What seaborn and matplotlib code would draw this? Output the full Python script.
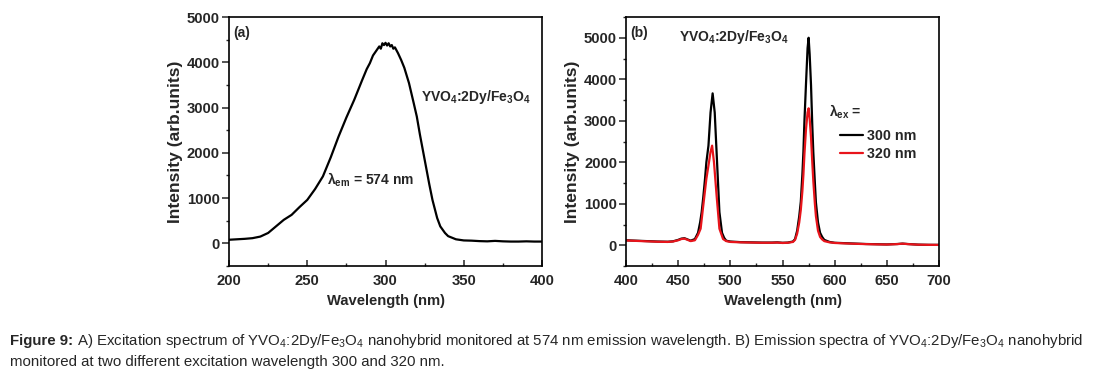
import matplotlib
matplotlib.use("Agg")
import matplotlib.pyplot as plt
import numpy as np
import pandas as pd
import seaborn as sns
from matplotlib.ticker import MultipleLocator

# ---------------- data ----------------
exc_wavelength = [200, 205, 210, 215, 220, 225, 230, 235, 240, 245, 250, 255, 260, 265,
                  270, 275, 280, 285, 288, 290, 292, 294, 295, 296, 297, 298, 299, 300,
                  301, 302, 303, 304, 305, 306, 308, 310, 312, 315, 318, 320, 322, 325,
                  328, 330, 333, 335, 338, 340, 345, 350, 355, 360, 365, 370, 375, 380,
                  385, 390, 395, 400]
exc_intensity = [80, 90, 100, 115, 150, 230, 375, 520, 630, 800, 960, 1200, 1480, 1900,
                 2360, 2780, 3170, 3600, 3850, 3980, 4150, 4250, 4300, 4350, 4300, 4420,
                 4380, 4430, 4370, 4420, 4350, 4380, 4300, 4330, 4200, 4050, 3880, 3540,
                 3100, 2800, 2400, 1850, 1300, 960, 560, 375, 230, 160, 90, 65, 60, 50,
                 45, 55, 45, 40, 40, 45, 40, 40]

em300_wavelength = [400, 410, 420, 430, 440, 445, 450, 453, 456, 459, 462, 466, 469, 471,
                    472.5, 474, 475.7, 477, 479, 481, 483, 485, 486.5, 488, 489.5, 492,
                    494, 496, 500, 510, 520, 530, 540, 545, 550, 555, 560, 562, 564, 566,
                    567.5, 569, 570, 571, 572.5, 574, 575, 576, 577.3, 578.5, 579.5, 581,
                    582, 584, 586, 588, 590, 595, 600, 610, 620, 630, 640, 650, 660, 665,
                    670, 680, 690, 700]
em300_intensity = [120, 110, 100, 90, 85, 95, 130, 160, 170, 140, 110, 150, 300, 550,
                   800, 1150, 1600, 2000, 2400, 3200, 3660, 3200, 2400, 1600, 800, 300,
                   180, 110, 90, 75, 70, 65, 65, 70, 60, 65, 90, 150, 350, 700,
                   1050, 1700, 2250, 3000, 3900, 4750, 5000, 4600, 3860, 2900, 2240, 1500,
                   1030, 550, 300, 200, 130, 80, 60, 50, 40, 30, 25, 20, 30, 40,
                   30, 15, 10, 10]

em320_wavelength = [400, 410, 420, 430, 440, 445, 450, 453, 456, 459, 462, 466, 469, 471.5,
                    474, 477, 479.5, 481, 482.5, 484.3, 486.8, 489.5, 493, 496, 500, 510,
                    520, 530, 540, 545, 550, 555, 560, 562, 564, 566, 567.5, 569, 570,
                    571, 572.5, 574, 575, 576, 577.3, 578.5, 579.5, 581, 582, 584, 586,
                    588, 590, 595, 600, 610, 620, 630, 640, 650, 660, 665, 670, 680,
                    690, 700]
em320_intensity = [115, 105, 95, 85, 80, 90, 120, 150, 160, 130, 100, 120, 250, 400,
                   950, 1600, 2000, 2250, 2400, 2000, 1200, 400, 150, 100, 80, 70,
                   65, 60, 60, 65, 55, 60, 80, 130, 280, 550, 850, 1300, 1700,
                   2200, 2800, 3200, 3300, 3050, 2600, 2000, 1550, 1000, 700, 350, 200,
                   140, 100, 70, 55, 45, 35, 28, 22, 18, 28, 38, 28, 14,
                   10, 8]

series_labels = ["300 nm", "320 nm"]
series_colors = ["#000000", "#e8141b"]

# ---------------- style ----------------
sns.set_style("ticks")
plt.rcParams['font.family'] = ['Liberation Sans', 'DejaVu Sans']
plt.rcParams['font.weight'] = 'bold'
plt.rcParams['axes.labelweight'] = 'bold'
plt.rcParams['mathtext.default'] = 'regular'
plt.rcParams['axes.linewidth'] = 1.2
plt.rcParams['axes.edgecolor'] = 'black'

fig = plt.figure(figsize=(11.01, 3.77), dpi=100)
ax1 = fig.add_axes([0.208, 0.2944, 0.2843, 0.6605])
ax2 = fig.add_axes([0.5686, 0.2944, 0.2843, 0.6605])

df_a = pd.DataFrame({"Wavelength": exc_wavelength, "Intensity": exc_intensity})
sns.lineplot(data=df_a, x="Wavelength", y="Intensity", ax=ax1, color="black",
             lw=1.6, estimator=None)

df_b = pd.concat([
    pd.DataFrame({"Wavelength": em300_wavelength, "Intensity": em300_intensity,
                  "series": series_labels[0]}),
    pd.DataFrame({"Wavelength": em320_wavelength, "Intensity": em320_intensity,
                  "series": series_labels[1]}),
], ignore_index=True)
sns.lineplot(data=df_b, x="Wavelength", y="Intensity", hue="series",
             palette=dict(zip(series_labels, series_colors)), ax=ax2, lw=1.6,
             estimator=None)

fs = 10
tfs = 10.7
for ax, (x0, x1), (y0, y1) in [(ax1, (200, 400), (-500, 5000)),
                               (ax2, (400, 700), (-500, 5500))]:
    ax.set_xlim(x0, x1)
    ax.set_ylim(y0, y1)
    ax.xaxis.set_major_locator(MultipleLocator(50))
    ax.xaxis.set_minor_locator(MultipleLocator(25))
    ax.yaxis.set_major_locator(MultipleLocator(1000))
    ax.yaxis.set_minor_locator(MultipleLocator(500))
    ax.set_yticks([0, 1000, 2000, 3000, 4000, 5000])
    ax.tick_params(axis='x', which='major', direction='in', length=4, width=1.1,
                   pad=6, labelsize=tfs)
    ax.tick_params(axis='x', which='minor', direction='in', length=2.5, width=1.0)
    ax.tick_params(axis='y', which='major', direction='out', length=5, width=1.1,
                   pad=1.5, labelsize=tfs)
    ax.tick_params(axis='y', which='minor', direction='out', length=2.2, width=1.0)
    for s in ax.spines.values():
        s.set_visible(True)
        s.set_linewidth(1.2)
    ax.set_xlabel("Wavelength (nm)", fontsize=10.6, labelpad=4)
    ax.set_ylabel("Intensity (arb.units)", fontsize=12.6, labelpad=3)
    for lbl in ax.get_xticklabels() + ax.get_yticklabels():
        lbl.set_fontweight('bold')

# panel texts
ax1.text(0.013, 0.936, "(a)", transform=ax1.transAxes, fontsize=fs, va='center')
ax1.text(0.613, 0.679, "YVO$_4$:2Dy/Fe$_3$O$_4$", transform=ax1.transAxes,
         fontsize=fs, va='center')
ax1.text(0.313, 0.345, "λ$_{em}$ = 574 nm", transform=ax1.transAxes,
         fontsize=fs, va='center')

ax2.text(0.013, 0.936, "(b)", transform=ax2.transAxes, fontsize=fs, va='center')
ax2.text(0.169, 0.92, "YVO$_4$:2Dy/Fe$_3$O$_4$", transform=ax2.transAxes,
         fontsize=fs, va='center')
ax2.text(0.649, 0.618, "λ$_{ex}$ =", transform=ax2.transAxes,
         fontsize=fs, va='center')

handles, labels = ax2.get_legend_handles_labels()
leg = ax2.legend(handles, labels, loc='upper left', bbox_to_anchor=(0.676, 0.563),
                 frameon=False, handlelength=1.6, handletextpad=0.25,
                 labelspacing=0.3, borderpad=0.2, borderaxespad=0,
                 prop={'size': 10.3, 'weight': 'bold'})

# caption
cap_bold = "Figure 9:"
cap1 = ("A) Excitation spectrum of YVO$_4$:2Dy/Fe$_3$O$_4$ "
        "nanohybrid monitored at 574 nm emission wavelength. B) Emission spectra of "
        "YVO$_4$:2Dy/Fe$_3$O$_4$ nanohybrid")
cap2 = "monitored at two different excitation wavelength 300 and 320 nm."
cfs = 10.8
tb = fig.text(0.009, 0.0955, cap_bold, fontsize=cfs, fontweight='bold', va='center')
fig.canvas.draw()
bb = tb.get_window_extent(renderer=fig.canvas.get_renderer())
x_next = (bb.x1 + 4) / fig.bbox.width
fig.text(x_next, 0.0955, cap1, fontsize=cfs, fontweight='normal', va='center')
fig.text(0.009, 0.041, cap2, fontsize=cfs, fontweight='normal', va='center')

fig.savefig("out.png", dpi=100)
